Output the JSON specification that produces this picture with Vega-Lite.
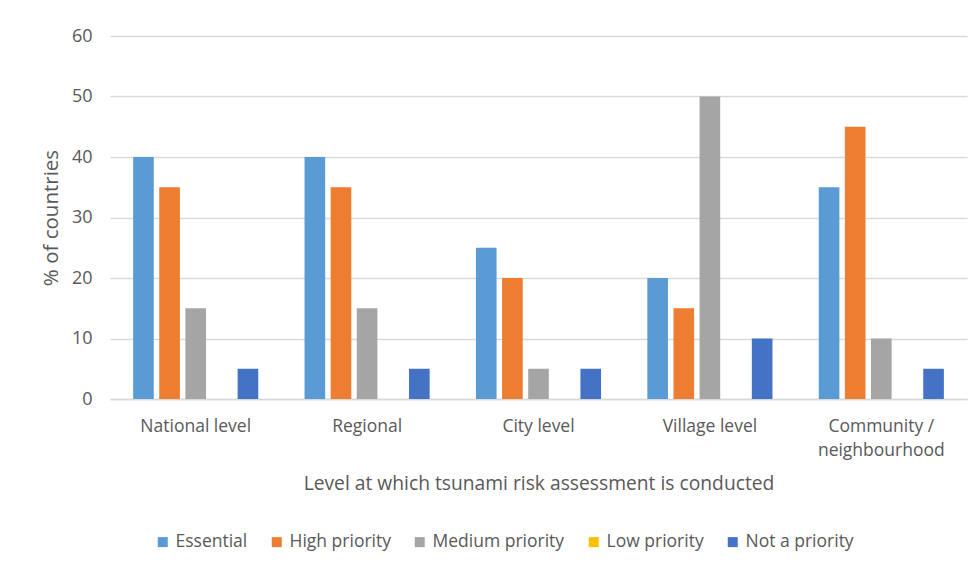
{
  "$schema": "https://vega.github.io/schema/vega-lite/v6.json",
  "width": 857,
  "height": 363,
  "autosize": {"type": "none"},
  "padding": {"left": 110, "top": 36, "right": 11, "bottom": 168},
  "background": "white",
  "data": {
    "values": [
      {"level": "National level", "priority": "Essential", "pct": 40},
      {"level": "National level", "priority": "High priority", "pct": 35},
      {"level": "National level", "priority": "Medium priority", "pct": 15},
      {"level": "National level", "priority": "Low priority", "pct": 0},
      {"level": "National level", "priority": "Not a priority", "pct": 5},
      {"level": "Regional", "priority": "Essential", "pct": 40},
      {"level": "Regional", "priority": "High priority", "pct": 35},
      {"level": "Regional", "priority": "Medium priority", "pct": 15},
      {"level": "Regional", "priority": "Low priority", "pct": 0},
      {"level": "Regional", "priority": "Not a priority", "pct": 5},
      {"level": "City level", "priority": "Essential", "pct": 25},
      {"level": "City level", "priority": "High priority", "pct": 20},
      {"level": "City level", "priority": "Medium priority", "pct": 5},
      {"level": "City level", "priority": "Low priority", "pct": 0},
      {"level": "City level", "priority": "Not a priority", "pct": 5},
      {"level": "Village level", "priority": "Essential", "pct": 20},
      {"level": "Village level", "priority": "High priority", "pct": 15},
      {"level": "Village level", "priority": "Medium priority", "pct": 50},
      {"level": "Village level", "priority": "Low priority", "pct": 0},
      {"level": "Village level", "priority": "Not a priority", "pct": 10},
      {"level": "Community / neighbourhood", "priority": "Essential", "pct": 35},
      {"level": "Community / neighbourhood", "priority": "High priority", "pct": 45},
      {"level": "Community / neighbourhood", "priority": "Medium priority", "pct": 10},
      {"level": "Community / neighbourhood", "priority": "Low priority", "pct": 0},
      {"level": "Community / neighbourhood", "priority": "Not a priority", "pct": 5}
    ]
  },
  "mark": {"type": "bar"},
  "encoding": {
    "x": {
      "field": "level",
      "type": "nominal",
      "sort": ["National level", "Regional", "City level", "Village level", "Community / neighbourhood"],
      "scale": {"paddingInner": 0.27, "paddingOuter": 0.135},
      "axis": {
        "title": "Level at which tsunami risk assessment is conducted",
        "labelAngle": 0,
        "labelPadding": 18,
        "labelFontSize": 17.5,
        "labelLineHeight": 24,
        "labelExpr": "datum.label == 'Community / neighbourhood' ? ['Community /', 'neighbourhood'] : datum.label",
        "ticks": false,
        "domainColor": "#d9d9d9",
        "domainWidth": 1.5,
        "titleFontSize": 19.25,
        "titlePadding": 16
      }
    },
    "xOffset": {
      "field": "priority",
      "type": "nominal",
      "sort": ["Essential", "High priority", "Medium priority", "Low priority", "Not a priority"],
      "scale": {"paddingInner": 0.21, "paddingOuter": 0}
    },
    "y": {
      "field": "pct",
      "type": "quantitative",
      "scale": {"domain": [0, 60]},
      "axis": {
        "title": "% of countries",
        "values": [0, 10, 20, 30, 40, 50, 60],
        "domain": false,
        "ticks": false,
        "labelPadding": 18,
        "labelFontSize": 18,
        "titleFontSize": 20.5,
        "titlePadding": 10,
        "gridColor": "#d9d9d9",
        "gridWidth": 1.5
      }
    },
    "color": {
      "field": "priority",
      "type": "nominal",
      "scale": {
        "domain": ["Essential", "High priority", "Medium priority", "Low priority", "Not a priority"],
        "range": ["#5b9bd5", "#ed7d31", "#a5a5a5", "#ffc000", "#4472c4"]
      },
      "legend": {
        "title": null,
        "orient": "none",
        "direction": "horizontal",
        "legendX": 44,
        "legendY": 497,
        "symbolType": "square",
        "symbolSize": 100,
        "symbolStrokeWidth": 0,
        "labelFontSize": 17.5,
        "labelOffset": 4,
        "columnPadding": 20
      }
    }
  },
  "config": {
    "font": "Open Sans",
    "view": {"stroke": null},
    "axis": {"labelColor": "#595959", "titleColor": "#595959", "titleFontWeight": "normal", "labelFont": "Open Sans", "titleFont": "Open Sans"},
    "legend": {"labelColor": "#595959", "labelFont": "Open Sans"}
  }
}
